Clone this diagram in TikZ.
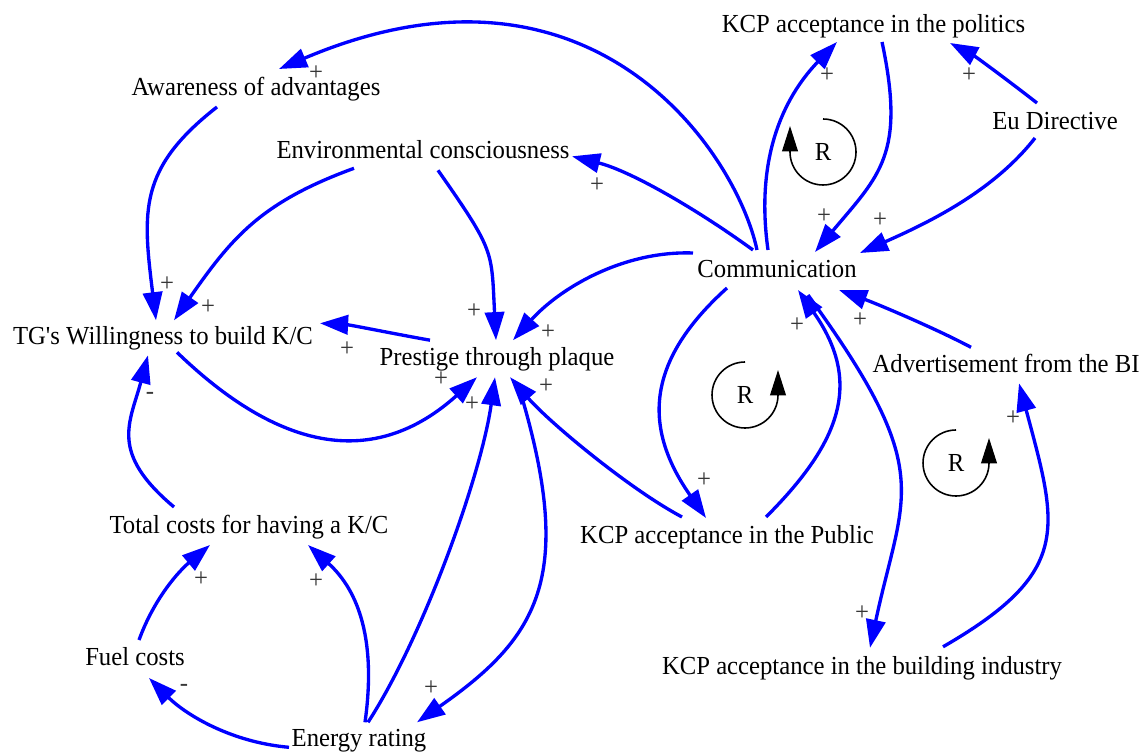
\documentclass[tikz,border=0pt]{standalone}
\usepackage{fontspec}
\setmainfont{Liberation Serif}[FakeStretch=0.95, Ligatures=TeXOff]
\usetikzlibrary{arrows.meta,calc}
\definecolor{lnk}{RGB}{0,0,255}
\definecolor{polc}{RGB}{55,55,55}
\tikzset{
  var/.style={font=\fontsize{14.8}{17}\selectfont, inner sep=0pt, text height=9.8pt, text depth=0pt, anchor=center},
  pol/.style={font=\fontsize{14.8}{17}\selectfont, inner sep=0pt, text=polc, anchor=center},
  link/.style={draw=lnk, line width=1.9pt, -{Triangle[length=16pt,width=11pt]}},
  loopar/.style={draw=black, line width=0.9pt, -{Triangle[length=14.5pt,width=9pt]}}
}
\begin{document}
\begin{tikzpicture}[x=0.02cm,y=0.02cm]
\useasboundingbox (0,0) rectangle (1148,754);
% variables
\node[var] (pol)  at (873.5,730.5) {KCP acceptance in the politics};
\node[var] (eu)   at (1055,633.5) {Eu Directive};
\node[var] (com)  at (777,485.5) {Communication};
\node[var] (awa)  at (256,667) {Awareness of advantages};
\node[var] (env)  at (423,603.7) {Environmental consciousness};
\node[var] (tg)   at (163,417.7) {TG's Willingness to build K/C};
\node[var] (pre)  at (497,396.8) {Prestige through plaque};
\node[var] (adv)  at (1006,389.7) {Advertisement from the BI};
\node[var] (tot)  at (249,229.5) {Total costs for having a K/C};
\node[var] (pub)  at (727,219.5) {KCP acceptance in the Public};
\node[var] (fuel) at (135,97) {Fuel costs};
\node[var] (bld)  at (862,88.2) {KCP acceptance in the building industry};
\node[var] (ene)  at (359,15.7) {Energy rating};
% links
\draw[link] ($(com)+(-20,18.5)$) .. controls +(102:100) and +(23:340) .. ($(awa)+(23,18)$);
\draw[link] ($(com)+(-24,18.5)$) .. controls +(144:70) and +(346:60) .. ($(env)+(149,-6)$);
\draw[link] ($(com)+(-84,15.5)$) .. controls +(178:70) and +(48:70) .. ($(pre)+(16,17)$);
\draw[link] ($(com)+(-9,18.5)$) .. controls +(98:100) and +(226:70) .. ($(pol)+(-36.5,-18.5)$);
\draw[link] ($(pol)+(8.5,-18.5)$) .. controls +(282:115) and +(50:100) .. ($(com)+(38,16.5)$);
\draw[link] ($(eu)+(-18,17.5)$) .. controls +(142:30) and +(332:30) .. ($(pol)+(76.5,-19.5)$);
\draw[link] ($(eu)+(-20,-17.5)$) .. controls +(232:70) and +(24:70) .. ($(com)+(83,15.5)$);
\draw[link] ($(awa)+(-39,-20)$) .. controls +(218:100) and +(97:110) .. ($(tg)+(-7,16)$);
\draw[link] ($(env)+(-69,-18)$) .. controls +(200:100) and +(55:100) .. ($(tg)+(11,16)$);
\draw[link] ($(env)+(15,-20)$) .. controls +(305:100) and +(93:90) .. ($(pre)+(-1,17)$);
\draw[link] ($(pre)+(-67,17)$) .. controls +(170:30) and +(357:30) .. ($(tg)+(157,13)$);
\draw[link] ($(tg)+(14,-16)$) .. controls +(316:140) and +(222:140) .. ($(pre)+(-20,-20)$);
\draw[link] ($(tot)+(-75,17.5)$) .. controls +(140:85) and +(255:70) .. ($(tg)+(-15,-19)$);
\draw[link] ($(fuel)+(4,17)$) .. controls +(70:45) and +(220:40) .. ($(tot)+(-39,-20.5)$);
\draw[link] ($(ene)+(6,16)$) .. controls +(82:80) and +(318:70) .. ($(tot)+(59,-20.5)$);
\draw[link] ($(ene)+(-70,-9)$) .. controls +(175:60) and +(315:50) .. ($(fuel)+(14,-21)$);
\draw[link] ($(ene)+(9,16)$) .. controls +(57:100) and +(262:100) .. ($(pre)+(-2,-20)$);
\draw[link] ($(pre)+(21,-27)$) .. controls +(287:200) and +(35:150) .. ($(ene)+(58,16)$);
\draw[link] ($(pub)+(-45,17.5)$) .. controls +(152:60) and +(311:60) .. ($(pre)+(13,-20)$);
\draw[link] ($(com)+(-50,-19.5)$) .. controls +(222:110) and +(125:110) .. ($(pub)+(-21,16.5)$);
\draw[link] ($(pub)+(39,17.5)$) .. controls +(45:110) and +(305:110) .. ($(com)+(21,-21.5)$);
\draw[link] ($(com)+(31,-26.5)$) .. controls +(306:220) and +(78:160) .. ($(bld)+(8,18)$);
\draw[link] ($(bld)+(81,19)$) .. controls +(30:150) and +(285:150) .. ($(adv)+(13,-19)$);
\draw[link] ($(adv)+(-35,17)$) .. controls +(152:40) and +(340:40) .. ($(com)+(62,-21.5)$);
% polarities
\node[pol] (p1)  at (316,681) {+};
\node[pol] (p2)  at (597,569) {+};
\node[pol] (p3)  at (548,422) {+};
\node[pol] (p4)  at (827,679) {+};
\node[pol] (p5)  at (824,538) {+};
\node[pol] (p6)  at (969,679) {+};
\node[pol] (p7)  at (880,534) {+};
\node[pol] (p8)  at (167,470) {+};
\node[pol] (p9)  at (208,447) {+};
\node[pol] (p10) at (474,443) {+};
\node[pol] (p11) at (347,405) {+};
\node[pol] (p12) at (441,375) {+};
\node[pol] (p13) at (150,358) {-};
\node[pol] (p14) at (201,175) {+};
\node[pol] (p15) at (316,173) {+};
\node[pol] (p16) at (184,66) {-};
\node[pol] (p17) at (472,350) {+};
\node[pol] (p18) at (431,66) {+};
\node[pol] (p19) at (546,368) {+};
\node[pol] (p20) at (704,274) {+};
\node[pol] (p21) at (797,429) {+};
\node[pol] (p22) at (862,141) {+};
\node[pol] (p23) at (1013,336) {+};
\node[pol] (p24) at (860,434) {+};
% loop markers
\node[var] (r1) at (823,602) {R};
\node[var] (r2) at (745,359) {R};
\node[var] (r3) at (956,291) {R};
\draw[loopar] ($(r1)+(0,33)$) arc[start angle=90,end angle=-180,radius=33] -- ++(0,26);
\draw[loopar] ($(r2)+(0,33)$) arc[start angle=90,end angle=360,radius=33] -- ++(0,25);
\draw[loopar] ($(r3)+(0,33)$) arc[start angle=90,end angle=360,radius=33] -- ++(0,25);
\end{tikzpicture}
\end{document}
